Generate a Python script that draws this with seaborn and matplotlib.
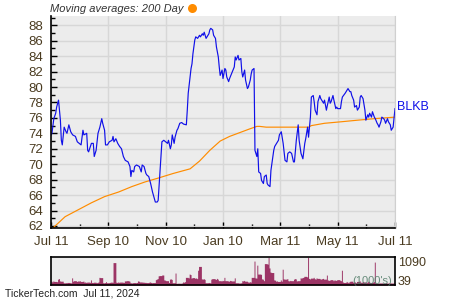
import matplotlib
matplotlib.use("Agg")
import matplotlib.pyplot as plt
from matplotlib.ticker import MultipleLocator, FixedLocator
import seaborn as sns
import pandas as pd

# ---------------- data ----------------
close_dates = [
    "2023-07-11", "2023-07-12", "2023-07-14", "2023-07-16", "2023-07-17", "2023-07-19", "2023-07-21", "2023-07-22",
    "2023-07-23", "2023-07-25", "2023-07-27", "2023-07-28", "2023-07-30", "2023-08-01", "2023-08-03", "2023-08-06",
    "2023-08-08", "2023-08-10", "2023-08-12", "2023-08-14", "2023-08-15", "2023-08-18", "2023-08-19", "2023-08-20",
    "2023-08-23", "2023-08-25", "2023-08-26", "2023-08-28", "2023-08-30", "2023-09-01", "2023-09-03", "2023-09-04",
    "2023-09-06", "2023-09-07", "2023-09-09", "2023-09-11", "2023-09-14", "2023-09-15", "2023-09-16", "2023-09-18",
    "2023-09-20", "2023-09-22", "2023-09-24", "2023-09-26", "2023-09-28", "2023-10-01", "2023-10-03", "2023-10-04",
    "2023-10-05", "2023-10-07", "2023-10-08", "2023-10-10", "2023-10-13", "2023-10-15", "2023-10-16", "2023-10-18",
    "2023-10-20", "2023-10-21", "2023-10-23", "2023-10-25", "2023-10-27", "2023-10-30", "2023-11-01", "2023-11-02",
    "2023-11-04", "2023-11-05", "2023-11-06", "2023-11-08", "2023-11-10", "2023-11-12", "2023-11-13", "2023-11-15",
    "2023-11-16", "2023-11-17", "2023-11-19", "2023-11-20", "2023-11-22", "2023-11-23", "2023-11-25", "2023-11-27",
    "2023-11-29", "2023-12-02", "2023-12-03", "2023-12-04", "2023-12-07", "2023-12-08", "2023-12-09", "2023-12-11",
    "2023-12-12", "2023-12-14", "2023-12-16", "2023-12-17", "2023-12-19", "2023-12-20", "2023-12-21", "2023-12-23",
    "2023-12-24", "2023-12-26", "2023-12-27", "2023-12-28", "2023-12-30", "2023-12-31", "2024-01-02", "2024-01-03",
    "2024-01-05", "2024-01-06", "2024-01-07", "2024-01-09", "2024-01-10", "2024-01-12", "2024-01-13", "2024-01-14",
    "2024-01-16", "2024-01-17", "2024-01-19", "2024-01-22", "2024-01-23", "2024-01-24", "2024-01-26", "2024-01-27",
    "2024-01-29", "2024-01-30", "2024-01-31", "2024-02-02", "2024-02-03", "2024-02-05", "2024-02-06", "2024-02-08",
    "2024-02-09", "2024-02-10", "2024-02-12", "2024-02-13", "2024-02-15", "2024-02-16", "2024-02-17", "2024-02-19",
    "2024-02-20", "2024-02-22", "2024-02-23", "2024-02-25", "2024-02-26", "2024-02-27", "2024-02-29", "2024-03-01",
    "2024-03-03", "2024-03-04", "2024-03-05", "2024-03-07", "2024-03-09", "2024-03-10", "2024-03-12", "2024-03-14",
    "2024-03-16", "2024-03-18", "2024-03-19", "2024-03-21", "2024-03-23", "2024-03-25", "2024-03-26", "2024-03-28",
    "2024-03-30", "2024-03-31", "2024-04-02", "2024-04-04", "2024-04-06", "2024-04-07", "2024-04-09", "2024-04-10",
    "2024-04-12", "2024-04-13", "2024-04-15", "2024-04-16", "2024-04-17", "2024-04-19", "2024-04-20", "2024-04-22",
    "2024-04-23", "2024-04-24", "2024-04-26", "2024-04-27", "2024-04-29", "2024-04-30", "2024-05-02", "2024-05-03",
    "2024-05-04", "2024-05-06", "2024-05-07", "2024-05-09", "2024-05-10", "2024-05-11", "2024-05-14", "2024-05-15",
    "2024-05-16", "2024-05-19", "2024-05-21", "2024-05-22", "2024-05-24", "2024-05-25", "2024-05-26", "2024-05-28",
    "2024-05-29", "2024-05-31", "2024-06-01", "2024-06-03", "2024-06-04", "2024-06-05", "2024-06-07", "2024-06-09",
    "2024-06-10", "2024-06-12", "2024-06-13", "2024-06-14", "2024-06-16", "2024-06-17", "2024-06-19", "2024-06-20",
    "2024-06-22", "2024-06-23", "2024-06-24", "2024-06-26", "2024-06-27", "2024-06-29", "2024-06-30", "2024-07-01",
    "2024-07-03", "2024-07-04", "2024-07-06", "2024-07-07", "2024-07-09", "2024-07-11",
]
close_values = [
    73.8, 74.0, 75.9, 76.6, 77.4, 78.3, 75.7, 73.1,
    72.5, 74.8, 74.2, 74.0, 75.1, 74.2, 73.8, 73.6,
    72.9, 72.7, 72.5, 74.4, 73.8, 74.0, 71.8, 71.6,
    72.7, 72.7, 71.0, 71.8, 74.0, 74.8, 75.9, 75.3,
    74.4, 72.5, 72.5, 72.9, 73.1, 73.6, 72.9, 73.3,
    72.7, 72.3, 72.0, 71.0, 70.5, 70.3, 69.7, 68.4,
    69.2, 69.0, 69.7, 69.9, 69.7, 69.0, 69.9, 69.7,
    68.8, 68.6, 68.4, 67.5, 66.4, 65.1, 65.1, 65.3,
    69.2, 71.0, 72.9, 73.1, 72.9, 72.7, 73.1, 72.0,
    72.5, 73.8, 72.7, 73.5, 74.4, 74.6, 75.3, 75.4,
    75.2, 75.1, 77.0, 79.2, 82.4, 83.0, 84.3, 86.1,
    86.5, 86.3, 86.7, 86.5, 86.9, 86.7, 87.1, 86.3,
    86.5, 86.9, 87.4, 87.6, 87.4, 86.7, 86.3, 85.2,
    83.9, 82.6, 81.5, 82.2, 81.1, 82.4, 82.2, 81.3,
    80.7, 81.1, 81.7, 82.6, 83.9, 83.5, 84.1, 83.5,
    83.7, 82.0, 81.3, 82.2, 80.9, 79.8, 80.0, 80.9,
    81.7, 82.2, 82.4, 71.8, 71.0, 72.0, 69.0, 68.8,
    67.9, 67.5, 68.4, 68.6, 67.5, 67.3, 67.1, 69.2,
    71.0, 71.8, 72.3, 72.7, 73.1, 73.8, 74.2, 72.7,
    70.5, 70.3, 71.4, 71.6, 71.4, 70.3, 70.3, 73.1,
    75.1, 73.1, 71.4, 70.7, 72.7, 73.3, 74.8, 73.5,
    76.1, 78.7, 78.9, 78.1, 77.0, 76.4, 78.1, 78.9,
    78.5, 78.3, 77.9, 78.3, 77.0, 77.6, 78.7, 77.9,
    78.1, 78.9, 78.3, 77.2, 77.4, 77.2, 77.2, 78.1,
    78.7, 79.2, 79.6, 79.8, 79.4, 79.4, 78.9, 78.3,
    77.4, 77.6, 77.0, 77.4, 78.7, 78.9, 78.5, 77.0,
    75.7, 76.4, 76.1, 76.6, 76.1, 76.8, 76.1, 75.9,
    75.3, 75.1, 74.8, 75.5, 76.1, 75.9, 75.7, 75.3,
    75.9, 75.5, 75.1, 74.4, 74.8, 77.2,
]

ma_dates = [
    "2023-07-11", "2023-07-26", "2023-08-09", "2023-08-23", "2023-09-06", "2023-09-21", "2023-10-05",
    "2023-10-19", "2023-11-02", "2023-11-18", "2023-12-06", "2023-12-16", "2023-12-27", "2024-01-07",
    "2024-01-17", "2024-01-28", "2024-02-08", "2024-02-15", "2024-02-18", "2024-02-25", "2024-03-10",
    "2024-04-10", "2024-04-13", "2024-04-27", "2024-05-15", "2024-06-01", "2024-06-19", "2024-07-11",
]
ma_values = [
    61.5, 63.2, 64.1, 65.0, 65.8, 66.4, 67.1,
    67.7, 68.2, 68.8, 69.4, 70.4, 71.8, 73.0,
    73.6, 74.1, 74.6, 74.9, 74.9, 74.8, 74.8,
    74.8, 75.0, 75.3, 75.5, 75.7, 75.9, 76.1,
]

# daily volume (thousands), one per business day from 2023-07-11
volume = [
    150, 120, 160, 140, 130, 230, 250, 160, 150, 90, 80, 95, 85, 100, 90, 85,
    280, 150, 170, 140, 160, 150, 175, 140, 155, 110, 120, 100, 115, 105, 200,
    100, 95, 110, 90, 100, 120, 300, 290, 90, 85, 95, 130, 90, 100, 110, 115, 105,
    880, 110, 100, 120, 105, 115, 110, 100, 160, 160, 170, 150, 90, 85, 80, 95, 90, 100,
    160, 150, 120, 110, 115, 100, 105, 95, 110, 120, 100, 90, 95, 210, 230, 250,
    360, 370, 400, 390, 200, 190, 170, 100, 230, 240, 220, 90, 470, 70, 65, 75, 70, 80,
    120, 110, 130, 300, 280, 430, 410, 270, 290, 260, 280, 250, 580, 730,
    240, 230, 250, 220, 90, 95, 100, 85, 230, 250, 240, 220, 260, 230,
    170, 160, 180, 170, 300, 170, 160, 150, 180, 170, 160, 280, 90, 85, 95, 80, 90,
    170, 160, 180, 150, 120, 110, 130, 115, 300, 940, 280, 270, 780, 430, 420,
    240, 230, 170, 840, 820, 1090, 670, 510, 490, 200, 190, 150, 160, 140, 200, 150,
    620, 240, 230, 250, 170, 160, 180, 170, 230, 250, 240, 160, 170, 280, 270,
    290, 300, 340, 320, 1090, 260, 240, 270, 300, 250, 230, 280, 260, 240, 230, 250, 260,
    230, 390, 200, 180, 190, 210, 170, 200, 190, 180, 210, 190, 170, 580,
    120, 100, 140, 110, 90, 130, 150, 110, 100, 120, 90, 140, 160, 110, 100, 130,
    120, 90, 110, 150, 120, 100, 110, 130, 900,
    80, 70, 90, 75, 85, 80, 70, 90, 80, 75, 85, 80, 70, 90, 85,
]

tick_dates = ["2023-07-11", "2023-09-10", "2023-11-10", "2024-01-10", "2024-03-11", "2024-05-11", "2024-07-11"]
tick_labels = ["Jul 11", "Sep 10", "Nov 10", "Jan 10", "Mar 11", "May 11", "Jul 11"]
y_ticks = [62, 64, 66, 68, 70, 72, 74, 76, 78, 80, 82, 84, 86, 88]
vol_labels = ["1090", "39"]
ticker = "BLKB"
title_text = "Moving averages: 200 Day"
footer_text = "TickerTech.com  Jul 11, 2024"

# ---------------- styling ----------------
plt.rcParams["font.family"] = ["Liberation Sans", "DejaVu Sans"]
BG = "#ececec"
GRID = "#d7d7d7"
TXT = "#4a3b20"
BLUE = "#1010e8"
ORANGE = "#ff8c00"
VOLC = "#9c3465"

fig = plt.figure(figsize=(4.5, 3.0), dpi=100)
W, H = 450.0, 300.0
ax = fig.add_axes([51 / W, 1 - 227.5 / H, 344 / W, (227.5 - 16) / H])
axv = fig.add_axes([51 / W, 1 - 285 / H, 344 / W, 28 / H])

cd = pd.to_datetime(close_dates)
md = pd.to_datetime(ma_dates)
td = pd.to_datetime(tick_dates)
vd = pd.bdate_range("2023-07-11", periods=len(volume))

ax.set_facecolor(BG)
sns.lineplot(x=md, y=ma_values, ax=ax, color=ORANGE, linewidth=0.85)
sns.lineplot(x=cd, y=close_values, ax=ax, color=BLUE, linewidth=0.85)

ax.set_xlim(td[0], td[-1])
ax.set_ylim(61.8, 89.2)
ax.set_xlabel("")
ax.set_ylabel("")
tick_nums = [pd.Timestamp(t).to_datetime64().astype("datetime64[D]").astype(float) for t in td]
ax.xaxis.set_major_locator(FixedLocator(tick_nums))
ax.set_xticklabels(tick_labels)
minor = [(tick_nums[i] + tick_nums[i + 1]) / 2 for i in range(len(tick_nums) - 1)]
ax.xaxis.set_minor_locator(FixedLocator(minor))
ax.set_yticks(y_ticks)
ax.yaxis.set_minor_locator(MultipleLocator(1))
ax.grid(True, which="major", color=GRID, linewidth=1.0)
ax.set_axisbelow(True)
ax.tick_params(which="both", direction="in", colors="black", labelcolor=TXT, labelsize=9.5)
ax.tick_params(which="major", length=4, width=1)
ax.tick_params(which="minor", length=3, width=1)
ax.tick_params(axis="x", pad=6)
ax.tick_params(axis="y", pad=6)
ax.spines["top"].set_visible(False)
ax.spines["right"].set_color("#d0d0d0")
ax.spines["left"].set_color("black")
ax.spines["bottom"].set_color("black")
ax.spines["left"].set_linewidth(1.2)
ax.spines["bottom"].set_linewidth(1.2)

# volume panel
axv.set_facecolor(BG)
axv.fill_between(vd, volume, 0, step="post", color=VOLC, linewidth=0)
axv.set_xlim(td[0], td[-1])
axv.set_ylim(0, 1100)
axv.set_xticks([])
axv.set_yticks([])
for s in axv.spines.values():
    s.set_color("black")
    s.set_linewidth(1.2)

# texts
fig.text(50 / W, 1 - 8.5 / H, title_text, fontsize=8, style="italic", color="#333333", va="center", ha="left")
fig.add_artist(plt.Line2D([192 / W], [1 - 7.5 / H], marker="o", markersize=6.5, color=ORANGE,
                          markeredgewidth=0, transform=fig.transFigure))
fig.text(397 / W, 1 - 106.5 / H, ticker, fontsize=9, color=BLUE, va="center", ha="left")
fig.text(398 / W, 1 - 262.5 / H, vol_labels[0], fontsize=9, color=TXT, va="center", ha="left")
fig.text(398 / W, 1 - 282 / H, vol_labels[1], fontsize=9, color=TXT, va="center", ha="left")
fig.text(392 / W, 1 - 281 / H, "(1000's)", fontsize=8, color="#4f7a66", va="center", ha="right", alpha=0.85)
fig.text(5 / W, 1 - 294 / H, footer_text, fontsize=7.5, color="#222222", va="center", ha="left")

fig.savefig("out.png", dpi=100)
